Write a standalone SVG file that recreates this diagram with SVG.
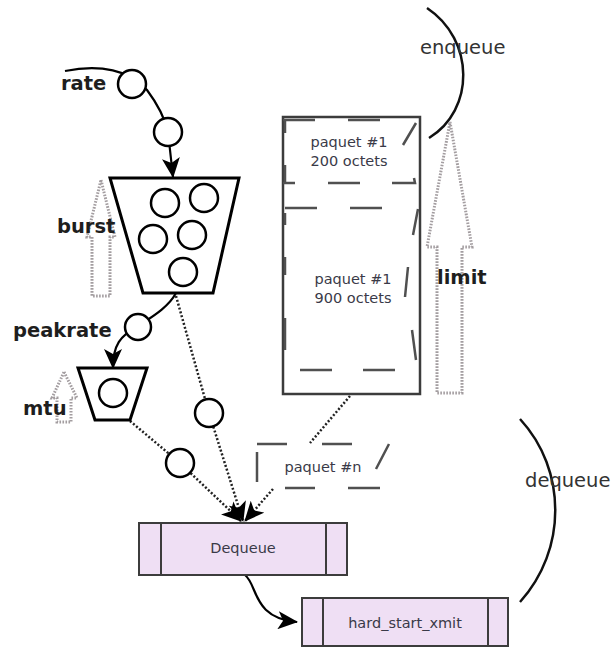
<svg xmlns="http://www.w3.org/2000/svg" width="611" height="648" viewBox="0 0 611 648">
  <style>
    .lbl { font-family: "DejaVu Sans", Verdana, sans-serif; font-weight: bold; font-size: 19.5px; fill: #1e1e1e; }
    .big { font-family: "DejaVu Sans", Verdana, sans-serif; font-size: 19.5px; fill: #333; }
    .small { font-family: "DejaVu Sans", Verdana, sans-serif; font-size: 14.5px; fill: #3a3a48; }
    .ball { fill: #fff; stroke: #000; stroke-width: 2.5; }
    .bucket { fill: #fff; stroke: #000; stroke-width: 3; stroke-linejoin: miter; }
    .flow { fill: none; stroke: #000; stroke-width: 2.2; }
    .dots { fill: none; stroke: #222; stroke-width: 2.5; stroke-dasharray: 2 2; }
    .hollow { fill: none; stroke: #a39da0; stroke-width: 3; stroke-dasharray: 1.6 1.4; }
    .arc { fill: none; stroke: #111; stroke-width: 2.5; }
    .dash { fill: none; stroke: #505050; stroke-width: 2.5; }
    .box { fill: #efdff4; stroke: #3c3c3c; stroke-width: 2; }
  </style>
  <defs>
    <marker id="head" viewBox="0 0 20 18" markerWidth="20" markerHeight="18" refX="19" refY="9" orient="auto" markerUnits="userSpaceOnUse">
      <path d="M0,0 L20,9 L0,18 L5,9 Z" fill="#000"/>
    </marker>
  </defs>

  <rect width="611" height="648" fill="#fff"/>

  <!-- connectors -->
  <g id="connectors">
    <path class="flow" d="M65,71 C100,64 130,70 147,90 C156,102 164,115 168,132 L173,177" marker-end="url(#head)"/>
    <path class="flow" d="M176,293 C168,308 150,318 138,326 C120,336 113,345 113,368" marker-end="url(#head)"/>
    <path class="dots" d="M176,296 L209,413 L243,521" marker-end="url(#head)"/>
    <path class="dots" d="M130,421 L180,463 L241,521" marker-end="url(#head)"/>
    <path class="dots" d="M350,396 L310,443"/>
    <path class="dots" d="M273,489 L245,521" marker-end="url(#head)"/>
    <path class="flow" d="M245,575 C258,585 252,618 297,622" marker-end="url(#head)"/>
  </g>

  <!-- token bucket (rate / burst) -->
  <g id="rate">
    <text class="lbl" x="61" y="90">rate</text>
    <circle class="ball" cx="132" cy="84" r="14"/>
    <circle class="ball" cx="168" cy="132" r="14"/>
  </g>
  <g id="burst-bucket">
    <polygon class="bucket" points="110,178 239,178 213,293 143,293"/>
    <circle class="ball" cx="165" cy="203" r="14"/>
    <circle class="ball" cx="204" cy="198" r="14"/>
    <circle class="ball" cx="153" cy="239" r="14"/>
    <circle class="ball" cx="192" cy="235" r="14"/>
    <circle class="ball" cx="183" cy="272" r="14"/>
  </g>
  <g id="burst">
    <polygon class="hollow" points="101,180 115,237 110,237 110,296 92,296 92,237 87,237"/>
    <text class="lbl" x="57" y="233">burst</text>
  </g>

  <!-- peak rate bucket -->
  <g id="peakrate">
    <text class="lbl" x="13" y="337">peakrate</text>
    <circle class="ball" cx="138" cy="327" r="13"/>
  </g>
  <g id="mtu-bucket">
    <polygon class="bucket" points="78,368 147,368 130,420 95,420"/>
    <circle class="ball" cx="113" cy="393" r="14"/>
  </g>
  <g id="mtu">
    <polygon class="hollow" points="64,372 77,398 71,398 71,422 57,422 57,398 52,398"/>
    <text class="lbl" x="23" y="415">mtu</text>
  </g>

  <!-- tokens on the way to dequeue -->
  <g id="token-a"><circle class="ball" cx="209" cy="413" r="14"/></g>
  <g id="token-b"><circle class="ball" cx="180" cy="463" r="14"/></g>

  <!-- packet queue -->
  <g id="queue">
    <rect x="283" y="117" width="137" height="277" fill="#fff" stroke="#3c3c3c" stroke-width="2.5"/>
  </g>
  <g id="packet1">
    <path class="dash" d="M283,120 H315 M348,120 H380 M285,120 V133 M285,165 V182 M416,123 L403,145 M283,183 H295 M328,183 H360 M392,183 H415 L414,178"/>
    <text class="small" x="349" y="147" text-anchor="middle">paquet #1</text>
    <text class="small" x="349" y="166" text-anchor="middle">200 octets</text>
  </g>
  <g id="packet2">
    <path class="dash" d="M285,208 H317 M350,208 H382 M418,209 L413,235 M408,267 L405,297 M412,330 L416,360 M300,370 H332 M363,370 H395 M285,213 V225 M285,257 V275 M285,318 V350"/>
    <text class="small" x="353" y="284" text-anchor="middle">paquet #1</text>
    <text class="small" x="353" y="303" text-anchor="middle">900 octets</text>
  </g>
  <g id="packetn">
    <path class="dash" d="M257,444 H287 M322,444 H352 M389,444 L376,469 M285,488 H315 M348,488 H380 M257,452 V482"/>
    <text class="small" x="323" y="472" text-anchor="middle">paquet #n</text>
  </g>
  <g id="limit">
    <polygon class="hollow" points="450,122 472,247 462,247 462,393 437,393 437,247 427,247"/>
    <text class="lbl" x="437" y="284">limit</text>
  </g>

  <!-- enqueue / dequeue brackets -->
  <g id="enqueue">
    <path class="arc" d="M427,8 C475,40 475,110 429,138"/>
    <text class="big" x="420" y="54">enqueue</text>
  </g>
  <g id="dequeue-side">
    <path class="arc" d="M520,419 C567,470 567,550 520,602"/>
    <text class="big" x="525" y="487">dequeue</text>
  </g>

  <!-- processes -->
  <g id="dequeue">
    <rect class="box" x="139" y="523" width="208" height="52"/>
    <line x1="161" y1="523" x2="161" y2="575" stroke="#3c3c3c" stroke-width="2"/>
    <line x1="326" y1="523" x2="326" y2="575" stroke="#3c3c3c" stroke-width="2"/>
    <text class="small" x="243" y="553" text-anchor="middle">Dequeue</text>
  </g>
  <g id="hard_start_xmit">
    <rect class="box" x="302" y="598" width="206" height="48"/>
    <line x1="323" y1="598" x2="323" y2="646" stroke="#3c3c3c" stroke-width="2"/>
    <line x1="488" y1="598" x2="488" y2="646" stroke="#3c3c3c" stroke-width="2"/>
    <text class="small" x="405" y="628" text-anchor="middle">hard_start_xmit</text>
  </g>
</svg>
